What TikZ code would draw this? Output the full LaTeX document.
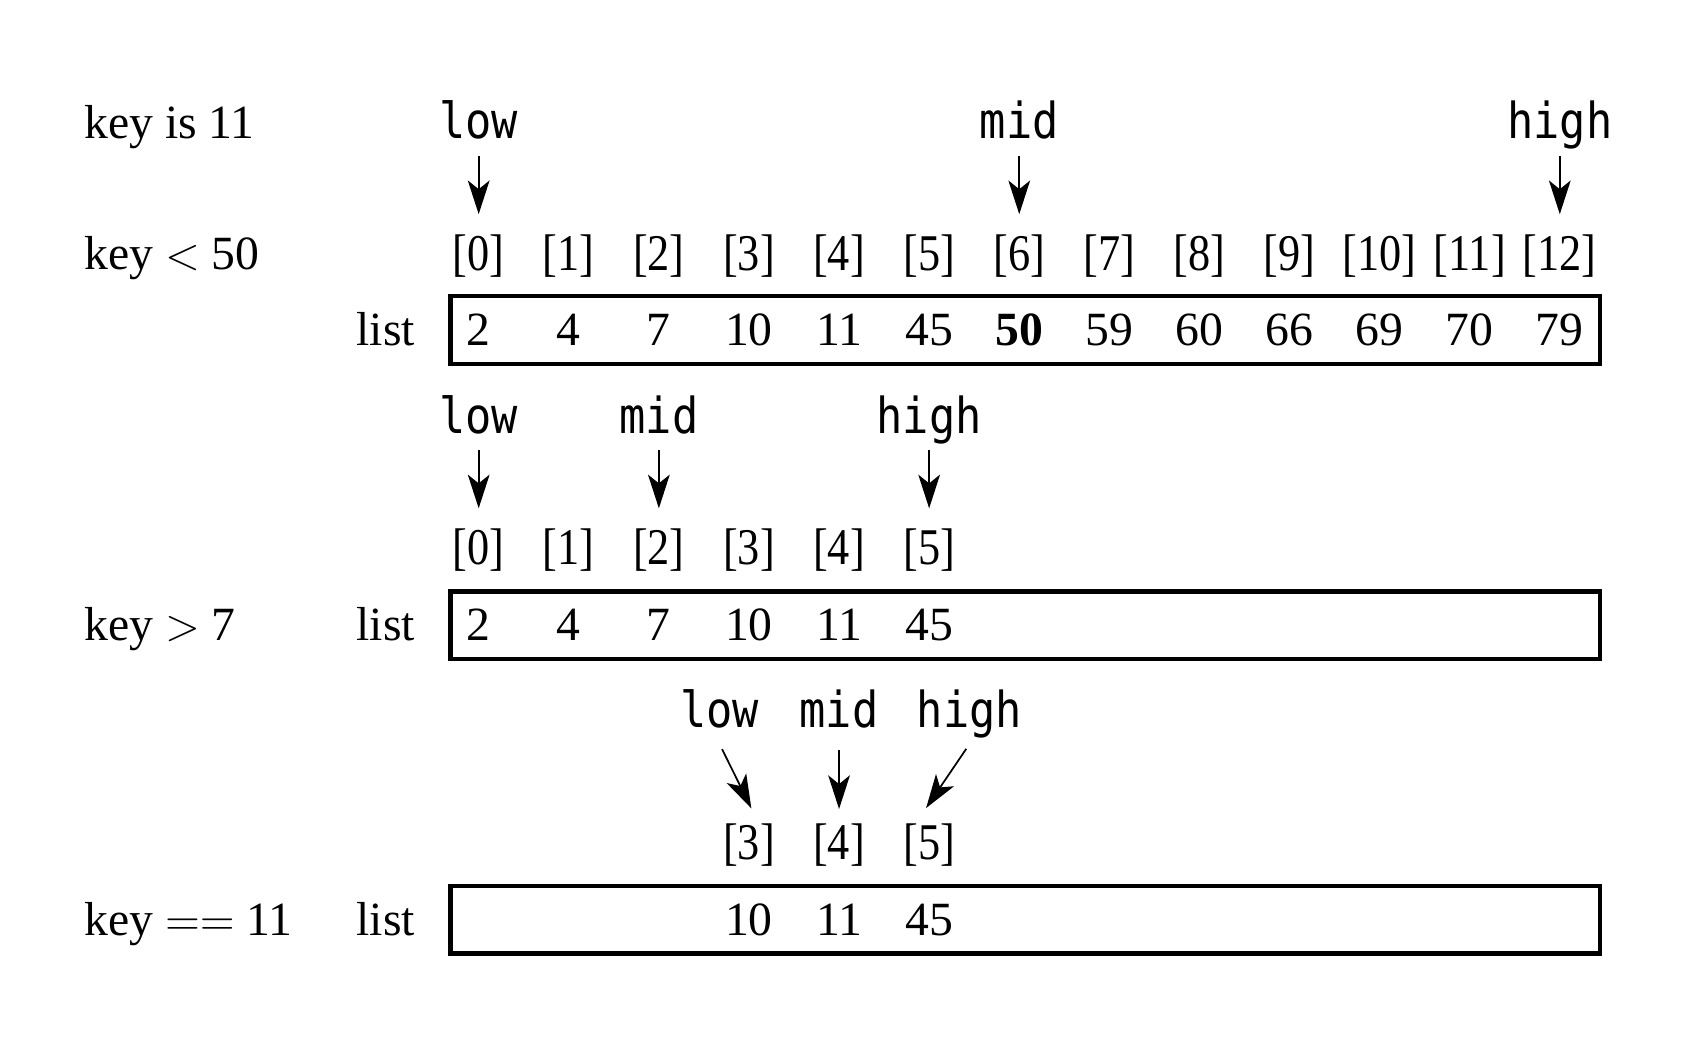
\documentclass[tikz,border=0pt]{standalone}
\usepackage{fontspec}
\setmainfont{Liberation Serif}
\newfontfamily\idxfont[FakeStretch=0.86]{Liberation Serif}
\newfontfamily\codefont[FakeStretch=0.88]{DejaVu Sans Mono}
\usetikzlibrary{arrows.meta}

\begin{document}
\begin{tikzpicture}[x=0.1mm, y=-0.1mm,
  txt/.style={font=\fontsize{12.5}{15}\selectfont, inner sep=0pt, anchor=base},
  idx/.style={txt, font={\idxfont\fontsize{13.5}{15}\selectfont}, text height=5.1mm},
  ptr/.style={font={\codefont\fontsize{13}{15}\selectfont}, inner sep=0pt, anchor=base, text depth=1.5mm},
  arr/.style={-{Stealth[length=3.1mm, width=2mm, inset=0.8mm]}, line width=0.45pt},
  listbox/.style={draw, line width=1.1pt, minimum width=105.9mm, minimum height=6.2mm, inner sep=0pt}]
\useasboundingbox (0,0) rectangle (1568,969);
\node[txt, anchor=base west] (keyA) at (77,128) {key is 11};
\node[txt, anchor=base west] (keyB) at (77,248) {key \(<\) 50};
\node[txt, anchor=base west] (keyC) at (77,590) {key \(>\) 7};
\node[txt, anchor=base west] (keyD) at (77,862) {key \(==\) 11};
\node[txt, anchor=base east] (listA) at (383,318) {list};
\node[txt, anchor=base east] (listB) at (383,590) {list};
\node[txt, anchor=base east] (listC) at (383,862) {list};
\node[listbox] (boxA) at (944.5,304) {};
\node[listbox] (boxB) at (944.5,576) {};
\node[listbox] (boxC) at (944.5,847.5) {};
\foreach \i in {0,...,12}
  \node[idx] (idxA\i) at (441+83*\i,249) {[\i]};
\foreach \v [count=\i from 0] in {2,4,7,10,11,45,\textbf{50},59,60,66,69,70,79}
  \node[txt] (valA\i) at (441+83*\i,318) {\v};
\foreach \i in {0,...,5}
  \node[idx] (idxB\i) at (441+83*\i,520) {[\i]};
\foreach \v [count=\i from 0] in {2,4,7,10,11,45}
  \node[txt] (valB\i) at (441+83*\i,590) {\v};
\foreach \i in {3,4,5}
  \node[idx] (idxC\i) at (441+83*\i,792) {[\i]};
\foreach \v [count=\i from 3] in {10,11,45}
  \node[txt] (valC\i) at (441+83*\i,862) {\v};
\node[ptr] (lowA) at (441,128) {low};
\node[ptr] (midA) at (939,128) {mid};
\node[ptr] (highA) at (1437,128) {high};
\node[ptr] (lowB) at (441,399) {low};
\node[ptr] (midB) at (607,399) {mid};
\node[ptr] (highB) at (856,399) {high};
\node[ptr] (lowC) at (663,670) {low};
\node[ptr] (midC) at (773,670) {mid};
\node[ptr] (highC) at (893,670) {high};
\draw[arr] (lowA.south) -- (idxA0.north);
\draw[arr] (midA.south) -- (idxA6.north);
\draw[arr] (highA.south) -- (idxA12.north);
\draw[arr] (lowB.south) -- (idxB0.north);
\draw[arr] (midB.south) -- (idxB2.north);
\draw[arr] (highB.south) -- (idxB5.north);
\draw[arr, shorten <=0.5mm, shorten >=-0.5mm] (lowC.south) -- (idxC3.north);
\draw[arr, shorten <=0.5mm, shorten >=-0.5mm] (midC.south) -- (idxC4.north);
\draw[arr, shorten <=0.5mm, shorten >=-0.5mm] (highC.south) -- (idxC5.north);
\end{tikzpicture}
\end{document}
